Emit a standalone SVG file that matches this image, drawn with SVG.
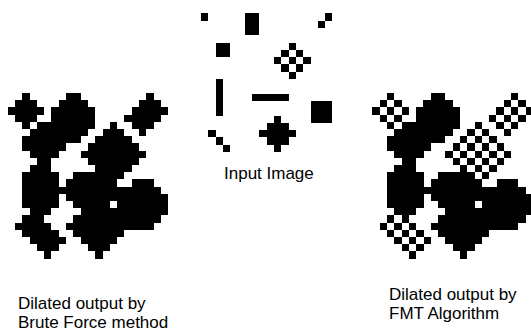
<svg xmlns="http://www.w3.org/2000/svg" xmlns:xlink="http://www.w3.org/1999/xlink" width="531" height="333" viewBox="0 0 531 333">
<style>
.px{fill:#000;stroke:none}
.img{shape-rendering:crispEdges}
.lbl{font-family:"Liberation Sans",Arial,sans-serif;font-size:17px;fill:#000}
</style>
<defs>
<path id="kFull" class="px" d="M0,-2h1v1h1v1h1v1h-1v1h-1v1h-1v-1h-1v-1h-1v-1h1v-1h1z"/>
<path id="kChk" class="px" d="M0,-2h1v1h-1z M-1,-1h1v1h-1z M1,-1h1v1h-1z M-2,0h1v1h-1z M0,0h1v1h-1z M2,0h1v1h-1z M-1,1h1v1h-1z M1,1h1v1h-1z M0,2h1v1h-1z"/>
</defs>
<rect width="531" height="333" fill="#fff"/>

<g id="input-image">
<g class="img" transform="translate(201,13.3) scale(7.3,7.3)">
<rect class="px" x="0" y="0" width="1" height="1"/>
<rect class="px" x="6" y="0" width="2" height="3"/>
<rect class="px" x="17" y="0" width="1" height="1"/>
<rect class="px" x="16" y="1" width="1" height="1"/>
<rect class="px" x="2" y="4" width="2" height="2"/>
<rect class="px" x="12" y="4" width="1" height="1"/>
<rect class="px" x="11" y="5" width="1" height="1"/>
<rect class="px" x="13" y="5" width="1" height="1"/>
<rect class="px" x="10" y="6" width="1" height="1"/>
<rect class="px" x="12" y="6" width="1" height="1"/>
<rect class="px" x="14" y="6" width="1" height="1"/>
<rect class="px" x="11" y="7" width="1" height="1"/>
<rect class="px" x="13" y="7" width="1" height="1"/>
<rect class="px" x="12" y="8" width="1" height="1"/>
<rect class="px" x="2" y="9" width="1" height="5"/>
<rect class="px" x="7" y="11" width="5" height="1"/>
<rect class="px" x="15" y="12" width="3" height="3"/>
<rect class="px" x="1" y="16" width="1" height="1"/>
<rect class="px" x="2" y="17" width="1" height="1"/>
<rect class="px" x="3" y="18" width="1" height="1"/>
<rect class="px" x="10" y="14" width="1" height="1"/>
<rect class="px" x="9" y="15" width="3" height="1"/>
<rect class="px" x="8" y="16" width="5" height="1"/>
<rect class="px" x="9" y="17" width="3" height="1"/>
<rect class="px" x="10" y="18" width="1" height="1"/>
</g>
<text class="lbl" x="224" y="179">Input Image</text>
</g>

<g id="brute-force-output">
<g class="img" transform="translate(22.2,107.4) scale(7.3,7.2)">
<use href="#kFull" x="0" y="0"/>
<use href="#kFull" x="6" y="0"/><use href="#kFull" x="7" y="0"/><use href="#kFull" x="6" y="1"/><use href="#kFull" x="7" y="1"/><use href="#kFull" x="6" y="2"/><use href="#kFull" x="7" y="2"/>
<use href="#kFull" x="17" y="0"/><use href="#kFull" x="16" y="1"/>
<use href="#kFull" x="2" y="4"/><use href="#kFull" x="3" y="4"/><use href="#kFull" x="2" y="5"/><use href="#kFull" x="3" y="5"/>
<use href="#kFull" x="12" y="4"/><use href="#kFull" x="11" y="5"/><use href="#kFull" x="13" y="5"/><use href="#kFull" x="10" y="6"/><use href="#kFull" x="12" y="6"/><use href="#kFull" x="14" y="6"/><use href="#kFull" x="11" y="7"/><use href="#kFull" x="13" y="7"/><use href="#kFull" x="12" y="8"/>
<use href="#kFull" x="2" y="9"/><use href="#kFull" x="2" y="10"/><use href="#kFull" x="2" y="11"/><use href="#kFull" x="2" y="12"/><use href="#kFull" x="2" y="13"/>
<use href="#kFull" x="7" y="11"/><use href="#kFull" x="8" y="11"/><use href="#kFull" x="9" y="11"/><use href="#kFull" x="10" y="11"/><use href="#kFull" x="11" y="11"/>
<use href="#kFull" x="15" y="12"/><use href="#kFull" x="16" y="12"/><use href="#kFull" x="17" y="12"/><use href="#kFull" x="15" y="13"/><use href="#kFull" x="16" y="13"/><use href="#kFull" x="17" y="13"/><use href="#kFull" x="15" y="14"/><use href="#kFull" x="16" y="14"/><use href="#kFull" x="17" y="14"/>
<use href="#kFull" x="1" y="16"/><use href="#kFull" x="2" y="17"/><use href="#kFull" x="3" y="18"/>
<use href="#kFull" x="10" y="14"/><use href="#kFull" x="9" y="15"/><use href="#kFull" x="10" y="15"/><use href="#kFull" x="11" y="15"/><use href="#kFull" x="8" y="16"/><use href="#kFull" x="9" y="16"/><use href="#kFull" x="10" y="16"/><use href="#kFull" x="11" y="16"/><use href="#kFull" x="12" y="16"/><use href="#kFull" x="9" y="17"/><use href="#kFull" x="10" y="17"/><use href="#kFull" x="11" y="17"/><use href="#kFull" x="10" y="18"/>
</g>
<text class="lbl" x="18" y="309">Dilated output by</text>
<text class="lbl" x="18" y="328">Brute Force method</text>
</g>

<g id="fmt-output">
<g class="img" transform="translate(387,107.4) scale(7.3,7.2)">
<use href="#kChk" x="0" y="0"/>
<use href="#kChk" x="6" y="0"/><use href="#kChk" x="7" y="0"/><use href="#kChk" x="6" y="1"/><use href="#kChk" x="7" y="1"/><use href="#kChk" x="6" y="2"/><use href="#kChk" x="7" y="2"/>
<use href="#kChk" x="17" y="0"/><use href="#kChk" x="16" y="1"/>
<use href="#kChk" x="2" y="4"/><use href="#kChk" x="3" y="4"/><use href="#kChk" x="2" y="5"/><use href="#kChk" x="3" y="5"/>
<use href="#kChk" x="12" y="4"/><use href="#kChk" x="11" y="5"/><use href="#kChk" x="13" y="5"/><use href="#kChk" x="10" y="6"/><use href="#kChk" x="12" y="6"/><use href="#kChk" x="14" y="6"/><use href="#kChk" x="11" y="7"/><use href="#kChk" x="13" y="7"/><use href="#kChk" x="12" y="8"/>
<use href="#kChk" x="2" y="9"/><use href="#kChk" x="2" y="10"/><use href="#kChk" x="2" y="11"/><use href="#kChk" x="2" y="12"/><use href="#kChk" x="2" y="13"/>
<use href="#kChk" x="7" y="11"/><use href="#kChk" x="8" y="11"/><use href="#kChk" x="9" y="11"/><use href="#kChk" x="10" y="11"/><use href="#kChk" x="11" y="11"/>
<use href="#kChk" x="15" y="12"/><use href="#kChk" x="16" y="12"/><use href="#kChk" x="17" y="12"/><use href="#kChk" x="15" y="13"/><use href="#kChk" x="16" y="13"/><use href="#kChk" x="17" y="13"/><use href="#kChk" x="15" y="14"/><use href="#kChk" x="16" y="14"/><use href="#kChk" x="17" y="14"/>
<use href="#kChk" x="1" y="16"/><use href="#kChk" x="2" y="17"/><use href="#kChk" x="3" y="18"/>
<use href="#kChk" x="10" y="14"/><use href="#kChk" x="9" y="15"/><use href="#kChk" x="10" y="15"/><use href="#kChk" x="11" y="15"/><use href="#kChk" x="8" y="16"/><use href="#kChk" x="9" y="16"/><use href="#kChk" x="10" y="16"/><use href="#kChk" x="11" y="16"/><use href="#kChk" x="12" y="16"/><use href="#kChk" x="9" y="17"/><use href="#kChk" x="10" y="17"/><use href="#kChk" x="11" y="17"/><use href="#kChk" x="10" y="18"/>
</g>
<text class="lbl" x="389" y="300">Dilated output by</text>
<text class="lbl" x="389" y="319">FMT Algorithm</text>
</g>
</svg>
